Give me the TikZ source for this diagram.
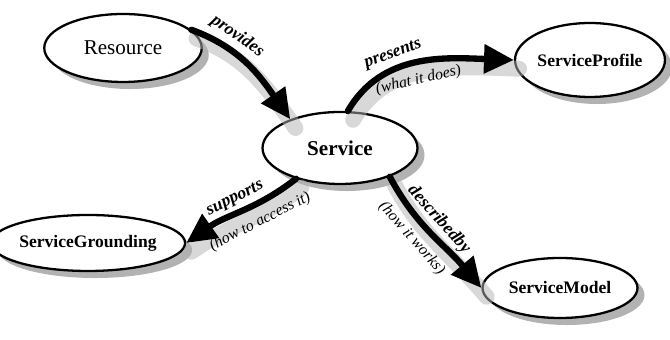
\documentclass[tikz,border=0pt]{standalone}
\usepackage{fontspec}
\setmainfont{Liberation Serif}
\usetikzlibrary{shapes.geometric,arrows.meta,shadows}
\begin{document}
\begin{tikzpicture}[x=0.02cm,y=0.02cm,line join=round,line cap=round,
	concept/.style={ellipse,draw,line width=1.3pt,fill=white,inner sep=0pt,font=\bfseries,
		drop shadow={shadow xshift=4pt,shadow yshift=-4pt,fill=black!55,opacity=0.55}},
	relation/.style={-{Triangle[length=17pt,width=16pt]},line width=3.6pt,
		preaction={draw=black!30,opacity=0.5,line width=9pt,-,transform canvas={shift={(3pt,-5pt)}}}},
	relname/.style={font=\bfseries\itshape,sloped,inner sep=2.5pt},
	relnote/.style={font=\itshape\small,sloped,inner sep=4pt}]
	\useasboundingbox (0,0) rectangle (670,340);
	% the five concepts
	\node[concept,font=\large,minimum width=3.15cm,minimum height=1.36cm] (res) at (123,292) {Resource};
	\node[concept,font=\large\bfseries,minimum width=3.1cm,minimum height=1.44cm] (svc) at (340,192) {Service};
	\node[concept,minimum width=3cm,minimum height=1.48cm] (prof) at (590,280) {ServiceProfile};
	\node[concept,minimum width=3.04cm,minimum height=1.12cm] (grd) at (88,97) {ServiceGrounding};
	\node[concept,minimum width=3.1cm,minimum height=1.2cm] (mdl) at (560,52) {ServiceModel};
	% relations with their names
	\draw[relation] (res.15) to[out=-20,in=125] 
		node[relname,above,pos=.3] (lprov) {provides} (svc.150);
	\draw[relation] (svc.78) to[out=60,in=178] 
		node[relname,above,pos=.38] (lpres) {presents}
		node[relnote,below,pos=.48] (npres) {(what it does)} (prof.west);
	\draw[relation] (svc.215) to[out=218,in=35] 
		node[relname,above,pos=.5] (lsupp) {supports}
		node[relnote,below,pos=.4] (nsupp) {(how to access it)} (grd.east);
	\draw[relation] (svc.330) to[out=-62,in=130] 
		node[relname,above,pos=.45] (ldesc) {describedby}
		node[relnote,below,pos=.42] (ndesc) {(how it works)} (mdl.west);
\end{tikzpicture}
\end{document}
